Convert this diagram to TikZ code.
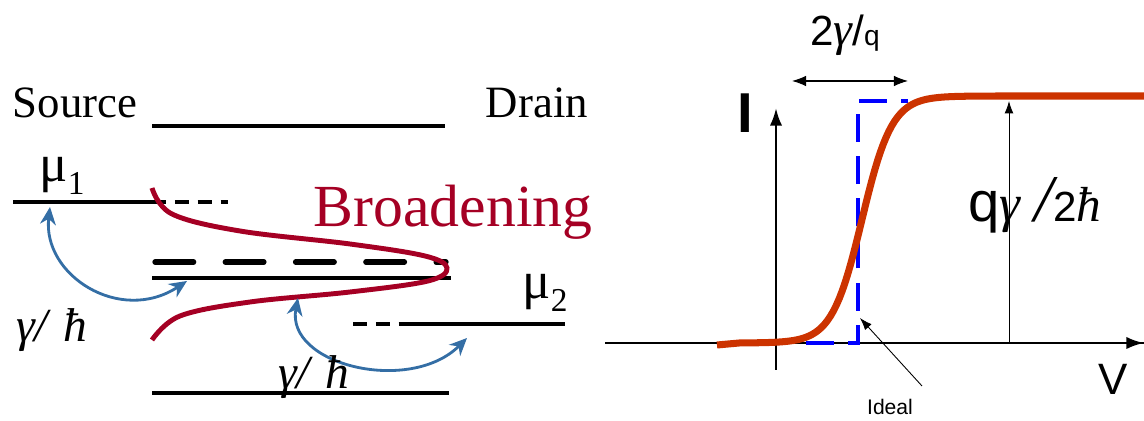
\documentclass[tikz,border=0pt]{standalone}
\usepackage{fontspec}
\setmainfont{Liberation Serif}
\setsansfont{Liberation Sans}
\usetikzlibrary{arrows.meta,positioning}
\definecolor{brred}{RGB}{165,0,36}
\definecolor{hopblue}{RGB}{52,110,165}
\definecolor{ivred}{RGB}{204,51,0}
\definecolor{idblue}{RGB}{0,0,255}

\begin{document}
\begin{tikzpicture}[x=0.02cm,y=-0.02cm,>=Latex,
    level/.style={line width=2.2pt},
    ext/.style={line width=1.8pt,dash pattern=on 8pt off 5pt},
    rate/.style={font=\itshape\fontsize{27}{30}\selectfont},
    hop/.style={hopblue,line width=1.6pt,{Stealth[length=10pt,width=9pt]}-{Stealth[length=10pt,width=9pt]}},
    thinarrow/.style={line width=0.5pt,-{Latex[length=7pt,width=5pt]}},
    axis/.style={line width=1.5pt,-{Latex[length=10pt,width=7pt]}}]
  \useasboundingbox (0,0) rectangle (1144,421);

  % contacts and channel levels
  \node[font=\fontsize{25.5}{28}\selectfont] (src) at (75,103) {Source};
  \node[font=\fontsize{25.5}{28}\selectfont] (drn) at (537,103) {Drain};
  \draw[level] (152,126) -- (445,126);
  \draw[level] (13,202) -- (152,202);
  \draw[ext] (152,202) -- (228,202);
  \node[font=\fontsize{30}{32}\selectfont] (mu1) at (62,176) {μ\raisebox{-0.25em}{\fontsize{19}{20}\selectfont 1}};
  \draw[line width=3pt,line cap=round,dash pattern=on 22pt off 18pt] (155,262) -- (446,262);
  \draw[level] (152,278) -- (451,278);
  \draw[ext] (353,324) -- (408,324);
  \draw[level] (408,324) -- (565,324);
  \node[font=\fontsize{30}{32}\selectfont] (mu2) at (545,293) {μ\raisebox{-0.25em}{\fontsize{19}{20}\selectfont 2}};
  \draw[level] (152,393) -- (449,393);

  % broadened level
  \draw[brred,line width=2.8pt] plot[smooth,tension=0.6] coordinates {(152,188) (172,214) (240,231) (350,244) (425,256) (447,268) (428,281) (350,292) (250,302) (180,316) (152,340)};
  \node[brred,font=\fontsize{34}{36}\selectfont] (brd) at (453,212) {Broadening};

  % escape rates
  \coordinate (l1) at (50,207);
  \coordinate (c1) at (187,281);
  \coordinate (c2) at (298,298);
  \coordinate (r2) at (467,338);
  \draw[hop] (l1) .. controls (42,275) and (120,325) .. (c1);
  \draw[hop] (c2) .. controls (285,365) and (410,395) .. (r2);
  \node[rate] (g1) at (52,330) {γ/\hspace*{9pt}ħ};
  \node[rate] (g2) at (314,377) {γ/\hspace*{9pt}ħ};

  % I-V characteristic
  \draw[line width=1.5pt] (605,343) -- (1144,343);
  \draw[axis] (1100,343) -- (1144,343);
  \draw[axis] (776,370) -- (776,108);
  \node[font=\sffamily\bfseries\fontsize{32}{34}\selectfont] (ilab) at (745,113) {I};
  \node[font=\sffamily\fontsize{25}{28}\selectfont] (vlab) at (1113,379) {V};
  \draw[idblue,line width=2pt,dash pattern=on 16pt off 8pt] (806,343) -- (858,343) -- (858,101) -- (908,101);
  \draw[ivred,line width=4pt] (717,345) -- plot[domain=740:1000,samples=90] (\x,{343-247/(1+exp(-(\x-862)/15))}) -- (1144,96);
  \draw[line width=0.6pt,{Latex[length=8pt,width=6pt]}-{Latex[length=8pt,width=6pt]}] (792,81) -- (908,81);
  \node[font=\sffamily\fontsize{24}{26}\selectfont] (wid) at (845,35) {2{\rmfamily\itshape\fontsize{27}{28}\selectfont γ}/{\fontsize{16}{18}\selectfont q}};
  \coordinate (base) at (1009,343);
  \coordinate (top) at (1009,101);
  \draw[thinarrow] (base) -- (top);
  \node[font=\sffamily\fontsize{32}{34}\selectfont] (hgt) at (1035,205) {q{\rmfamily\itshape\fontsize{30}{32}\selectfont γ\hspace*{8pt}{\fontsize{38}{40}\selectfont/}}{\fontsize{24}{26}\selectfont 2}{\rmfamily\itshape\fontsize{28}{30}\selectfont ħ}};
  \node[font=\sffamily\fontsize{12}{14}\selectfont] (idl) at (890,407) {Ideal};
  \coordinate (idt) at (860,318);
  \draw[thinarrow] (922,386) -- (idt);
\end{tikzpicture}
\end{document}
